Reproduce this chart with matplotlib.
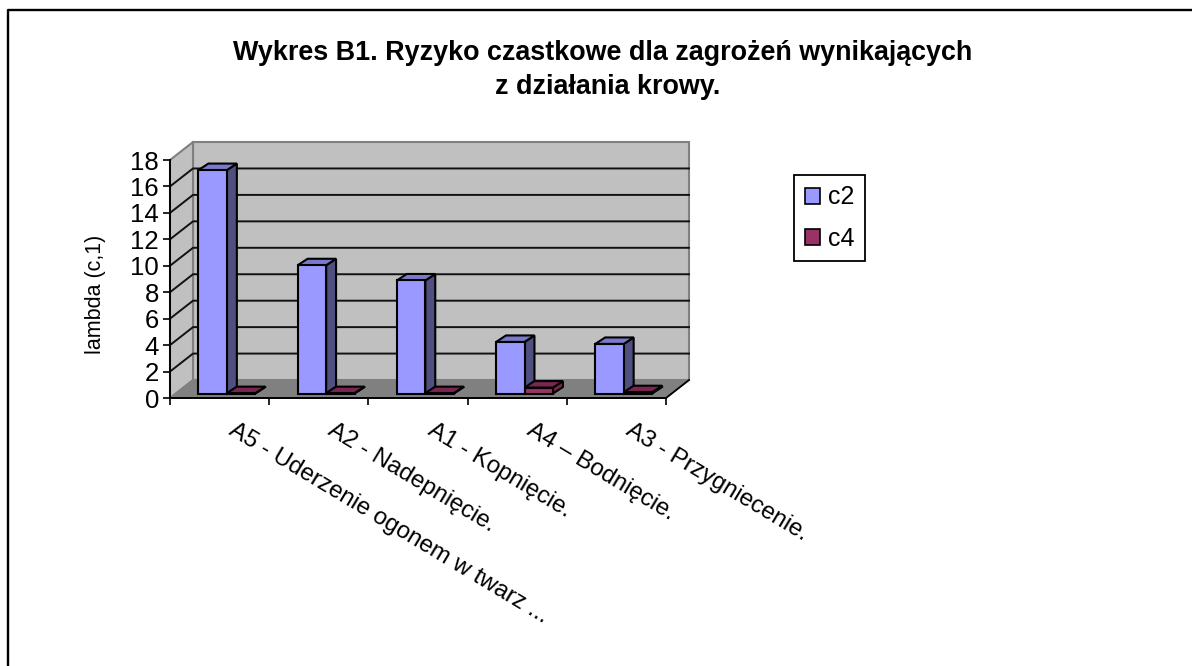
import matplotlib
matplotlib.use('Agg')
import matplotlib.pyplot as plt
from matplotlib.lines import Line2D
from matplotlib.patches import Patch

plt.rcParams['font.family'] = ['Liberation Sans', 'DejaVu Sans']

categories = ['A5 - Uderzenie ogonem w twarz ...', 'A2 - Nadepnięcie.', 'A1 - Kopnięcie.',
              'A4 – Bodnięcie.', 'A3 - Przygniecenie.']
c2 = [16.9, 9.7, 8.55, 3.9, 3.75]
c4 = [0.03, 0.03, 0.03, 0.45, 0.1]
yticks = [0, 2, 4, 6, 8, 10, 12, 14, 16, 18]

W, H = 1192, 666

# oblique offsets, in data units
wall_dx, wall_dy = 0.232, 1.36
bar_dx, bar_dy = 0.1, 0.49
base_y = 0.34
bar_w = 0.287


def bar3d(ax, x, v, front, top, side):
    # side and top faces go first, front on top of them
    y0 = base_y
    y1 = base_y + v
    ax.fill([x + bar_w, x + bar_w + bar_dx, x + bar_w + bar_dx, x + bar_w],
            [y0, y0 + bar_dy, y1 + bar_dy, y1], fc=side, ec='black', lw=1.5, clip_on=False, zorder=4)
    ax.fill([x, x + bar_dx, x + bar_w + bar_dx, x + bar_w],
            [y1, y1 + bar_dy, y1 + bar_dy, y1], fc=top, ec='black', lw=1.5, clip_on=False, zorder=4)
    ax.fill([x, x + bar_w, x + bar_w, x],
            [y0, y0, y1, y1], fc=front, ec='black', lw=1.5, clip_on=False, zorder=5)


fig = plt.figure(figsize=(W / 100, H / 100), dpi=100)
ax = fig.add_axes([170 / W, (H - 398) / H, 496 / W, 238 / H])
ax.patch.set_visible(False)
n = len(categories)
ax.set_xlim(0, n)
ax.set_ylim(0, 18)

# walls and floor
ax.fill([wall_dx, n + wall_dx, n + wall_dx, wall_dx],
        [wall_dy, wall_dy, 18 + wall_dy, 18 + wall_dy],
        fc='#c0c0c0', ec='#808080', lw=1.5, clip_on=False, zorder=1)
ax.fill([0, wall_dx, wall_dx, 0], [0, wall_dy, 18 + wall_dy, 18],
        fc='#c0c0c0', ec='#808080', lw=1.5, clip_on=False, zorder=1)
ax.fill([0, n, n + wall_dx, wall_dx], [0, 0, wall_dy, wall_dy],
        fc='#808080', ec='#808080', lw=1, clip_on=False, zorder=1)
ax.plot([n, n + wall_dx], [0, wall_dy], color='black', lw=1.3, clip_on=False, zorder=2)

# gridlines on both walls
for v in yticks[1:-1]:
    ax.plot([0, wall_dx, n + wall_dx], [v, v + wall_dy, v + wall_dy],
            color='#111111', lw=1.4, clip_on=False, zorder=2)

for i in range(n):
    x = i + 0.287
    bar3d(ax, x, c2[i], '#9999ff', '#7a7acc', '#4f4f80')
    bar3d(ax, x + bar_w, c4[i], '#993366', '#7a2650', '#7a2650')

ax.spines['top'].set_visible(False)
ax.spines['right'].set_visible(False)
ax.spines['left'].set_linewidth(1.4)
ax.spines['bottom'].set_linewidth(1.4)
ax.spines['left'].set_zorder(6)
ax.spines['bottom'].set_zorder(6)

ax.set_yticks(yticks)
ax.tick_params(axis='y', length=5, width=1.2, labelsize=18.5, pad=3)
ax.set_xticks(range(n + 1))
ax.set_xticklabels([])
ax.tick_params(axis='x', which='major', length=5, width=1.2)
ax.set_xticks([i + 0.67 for i in range(n)], minor=True)
ax.set_xticklabels(categories, minor=True, rotation=-31, ha='left', va='top',
                   rotation_mode='anchor', fontsize=17.3)
ax.tick_params(axis='x', which='minor', length=0, pad=15)

fig.text(96 / W, 1 - 294 / H, 'lambda (c,1)', rotation=90, ha='center', va='center', fontsize=15.5)

fig.text(602.5 / W, 1 - 60 / H, 'Wykres B1. Ryzyko czastkowe dla zagrożeń wynikających',
         ha='center', va='baseline', fontsize=19.4, fontweight='bold')
fig.text(608 / W, 1 - 94.5 / H, 'z działania krowy.',
         ha='center', va='baseline', fontsize=19.4, fontweight='bold')

handles = [Patch(fc='#9999ff', ec='black', lw=1.2), Patch(fc='#993366', ec='black', lw=1.2)]
fig.legend(handles, ['c2', 'c4'], loc='upper left', bbox_to_anchor=(794 / W, 1 - 175 / H),
           borderaxespad=0, fancybox=False, framealpha=1, edgecolor='black', fontsize=18,
           handlelength=0.62, handleheight=0.62, handletextpad=0.32, labelspacing=0.68,
           borderpad=0.42).get_frame().set_linewidth(1.3)

# chart area border, left and top only
fig.add_artist(Line2D([8 / W, 8 / W, 1], [0, 1 - 10 / H, 1 - 10 / H],
                      color='black', lw=1.7))

fig.savefig('out.png', dpi=100)
